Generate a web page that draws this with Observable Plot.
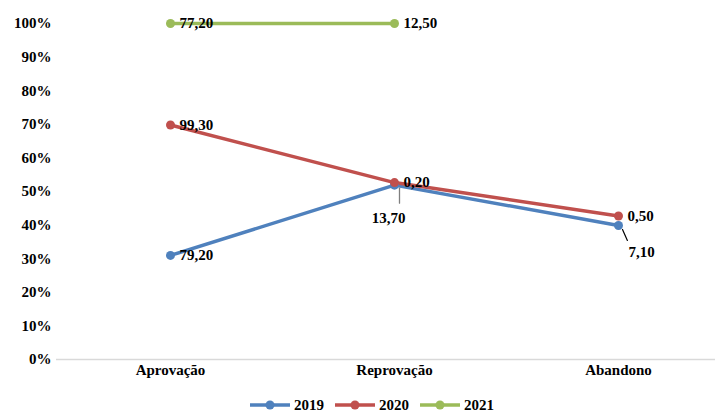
<!DOCTYPE html>
<html><head><meta charset="utf-8">
<script src="https://cdn.jsdelivr.net/npm/d3@7"></script>
<script src="https://cdn.jsdelivr.net/npm/@observablehq/plot@0.6"></script>
<style>
body{margin:0;background:#fff;font-family:"Liberation Serif",serif;overflow:hidden;}
#wrap{position:relative;width:715px;height:412px;}
#legend{position:absolute;top:397px;left:250px;display:flex;align-items:center;height:16px;font-size:15px;font-weight:bold;color:#000;}
#legend .item{display:flex;align-items:center;margin-right:11px;}
#legend .item span{margin-left:4px;line-height:15px;}
</style>
</head><body>
<div id="wrap"><div id="chart"></div><div id="legend"></div></div>
<script>
const categories = ["Aprovação", "Reprovação", "Abandono"];
const years = ["2019", "2020", "2021"];
const values2019 = [79.2, 13.7, 7.1];
const values2020 = [99.3, 0.2, 0.5];
// 2021 Abandono is neither drawn nor labelled; value estimated from stacked positions
const values2021 = [77.2, 12.5, 10.2];
const shown2021 = [true, true, false];
const yTicks = [0, 0.1, 0.2, 0.3, 0.4, 0.5, 0.6, 0.7, 0.8, 0.9, 1];
const colors = ["#4F81BD", "#C0504D", "#9BBB59"];

const series = [values2019, values2020, values2021];
const shown = [[true, true, true], [true, true, true], shown2021];
const totals = categories.map((c, j) => d3.sum(series, s => s[j]));
const rows = [];
years.forEach((yr, i) => {
  categories.forEach((c, j) => {
    const cum = d3.sum(series.slice(0, i + 1), s => s[j]);
    rows.push({year: yr, category: c, value: series[i][j], share: cum / totals[j], shown: shown[i][j]});
  });
});
const vis = rows.filter(d => d.shown);
const fmt = v => d3.format(".2f")(v).replace(".", ",");

function placement(d) {
  if (d.year === "2019" && d.category === "Reprovação") return "below";
  if (d.year === "2019" && d.category === "Abandono") return "belowRight";
  return "right";
}
const leaderShape = {draw(ctx, l) { ctx.moveTo(0, 0); ctx.lineTo(0, -l); }};
const FONT = "Liberation Serif";

const chart = Plot.plot({
  width: 715, height: 398,
  marginLeft: 56, marginRight: 0, marginTop: 23, marginBottom: 39,
  x: {type: "point", domain: categories, range: [169, 618], padding: 0, label: null},
  y: {domain: [0, 1], label: null},
  color: {domain: years, range: colors},
  style: {fontFamily: FONT, fontSize: "15px", fontWeight: "bold", color: "#000", background: "#fff"},
  marks: [
    Plot.ruleY([0], {stroke: "#d9d9d9", strokeWidth: 1.5}),
    Plot.axisY({ticks: yTicks, tickFormat: d => Math.round(d * 100) + "%", tickSize: 0, tickPadding: 5, label: null, fill: "#000", fontFamily: FONT}),
    Plot.axisX({tickSize: 0, tickPadding: 5, label: null, fill: "#000", fontFamily: FONT}),
    Plot.line(vis, {x: "category", y: "share", z: "year", stroke: "year", strokeWidth: 3.5}),
    Plot.dot(vis, {x: "category", y: "share", fill: "year", r: 4.5}),
    Plot.vector(vis.filter(d => placement(d) === "below"), {x: "category", y: "share", length: 15, rotate: 180, anchor: "start", dx: 5, dy: 3, shape: leaderShape, stroke: "#7f7f7f", strokeWidth: 1.3}),
    Plot.vector(vis.filter(d => placement(d) === "belowRight"), {x: "category", y: "share", length: 12, rotate: 156, anchor: "start", dx: 4, dy: 4, shape: leaderShape, stroke: "#000", strokeWidth: 1.2}),
    Plot.text(vis.filter(d => placement(d) === "right"), {x: "category", y: "share", text: d => fmt(d.value), textAnchor: "start", dx: 9, fill: "#000", fontFamily: FONT}),
    Plot.text(vis.filter(d => placement(d) === "below"), {x: "category", y: "share", text: d => fmt(d.value), textAnchor: "middle", dx: -6, dy: 33, fill: "#000", fontFamily: FONT}),
    Plot.text(vis.filter(d => placement(d) === "belowRight"), {x: "category", y: "share", text: d => fmt(d.value), textAnchor: "middle", dx: 23, dy: 27, fill: "#000", fontFamily: FONT})
  ]
});
document.getElementById("chart").appendChild(chart);

const legend = document.getElementById("legend");
years.forEach((yr, i) => {
  const item = document.createElement("div");
  item.className = "item";
  item.innerHTML = `<svg width="40" height="16"><line x1="0" y1="8" x2="40" y2="8" stroke="${colors[i]}" stroke-width="3.5"/><circle cx="20" cy="8" r="4.5" fill="${colors[i]}"/></svg><span>${yr}</span>`;
  legend.appendChild(item);
});
</script>
</body></html>
